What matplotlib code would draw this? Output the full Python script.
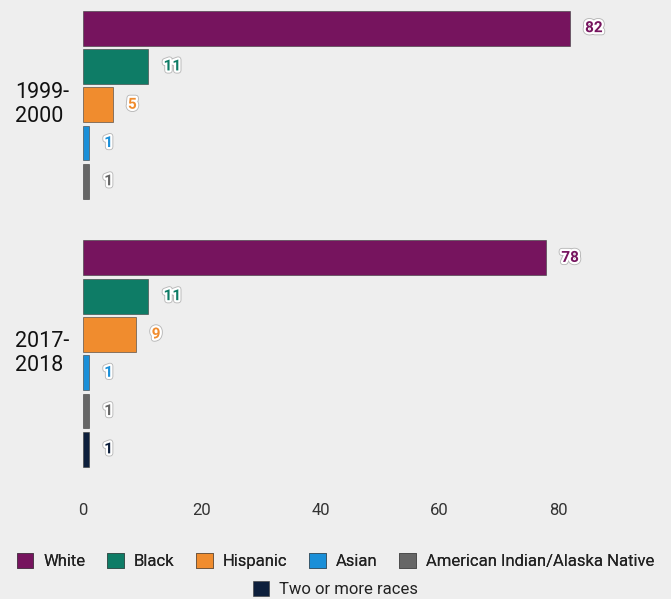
import matplotlib
matplotlib.use("Agg")
import matplotlib.pyplot as plt
import matplotlib.patheffects as pe
from matplotlib import font_manager
from matplotlib.transforms import blended_transform_factory
from matplotlib.patches import Patch

# data
years = ["1999-\n2000", "2017-\n2018"]
races = ["White", "Black", "Hispanic", "Asian",
         "American Indian/Alaska Native", "Two or more races"]
colors = ["#76145e", "#0e7c66", "#f08c2e", "#1a8fd8", "#666666", "#0d1f3c"]
vals_1999 = [82, 11, 5, 1, 1, None]
vals_2017 = [78, 11, 9, 1, 1, 1]
ticks = [0, 20, 40, 60, 80]

names = {f.name for f in font_manager.fontManager.ttflist}
font = "Liberation Sans Narrow" if "Liberation Sans Narrow" in names else "Roboto"
plt.rcParams["font.family"] = [font, "DejaVu Sans"]

bg = "#eeeeee"
fig = plt.figure(figsize=(6.71, 5.99), dpi=100, facecolor=bg)
ax = fig.add_axes([83 / 671, 1 - 468.5 / 599, 564 / 671, 459.5 / 599])
ax.set_facecolor(bg)

halo = [pe.Stroke(linewidth=4.5, foreground="#b8b8b8"),
        pe.Stroke(linewidth=3.2, foreground="white"), pe.Normal()]

slot = 0
centers = []
for vals in [vals_1999, vals_2017]:
    used = []
    for v, c in zip(vals, colors):
        if v is None:
            continue
        ax.barh(slot, v, height=0.91, color=c, edgecolor="#3a3a3a",
                linewidth=0.4)
        ax.annotate(str(v), (v, slot), xytext=(11, 0), textcoords="offset points",
                    ha="left", va="center", fontsize=11, fontweight="bold",
                    color=c, path_effects=halo)
        used.append(slot)
        slot += 1
    centers.append(sum(used) / len(used))
    slot += 1

ax.set_ylim(11.5, -0.5)
ax.set_xlim(0, 95)
ax.set_xticks(ticks)
ax.set_xticklabels([str(t) for t in ticks])
ax.tick_params(axis="x", length=0, pad=25, labelsize=12, labelcolor="#333333")
ax.set_yticks([])
for s in ax.spines.values():
    s.set_visible(False)

tr = blended_transform_factory(fig.transFigure, ax.transData)
for lab, cy in zip(years, centers):
    ax.text(15 / 671, cy, lab, transform=tr, ha="left", va="center",
            fontsize=15.5, color="#111111", linespacing=1.2)

handles = [Patch(facecolor=c, edgecolor="#3a3a3a", linewidth=0.4, label=r)
           for r, c in zip(races, colors)]
leg1 = fig.legend(handles=handles[:5], loc="center", bbox_to_anchor=(0.5, 1 - 561 / 599),
                  ncol=5, frameon=False, fontsize=12, handlelength=1.0,
                  handleheight=1.0, handletextpad=0.6, columnspacing=1.3,
                  labelcolor="#222222")
fig.add_artist(leg1)
fig.legend(handles=handles[5:], loc="center", bbox_to_anchor=(0.5, 1 - 589 / 599),
           ncol=1, frameon=False, fontsize=12, handlelength=1.0,
           handleheight=1.0, handletextpad=0.6, labelcolor="#222222")

fig.savefig("out.png", dpi=100, facecolor=bg)
